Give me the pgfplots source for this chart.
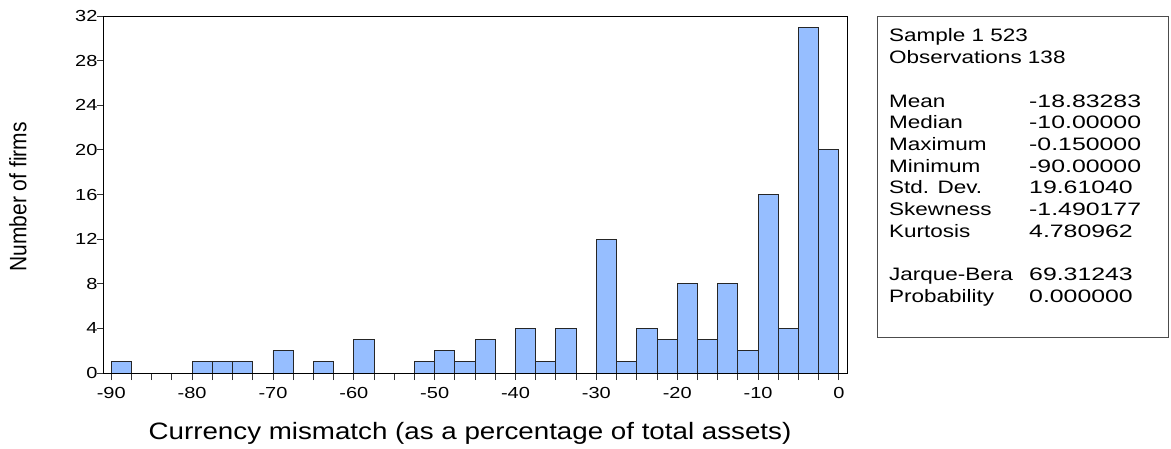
\documentclass[border=0pt]{standalone}
\usepackage{fontspec}
\setmainfont{Liberation Sans}[FakeStretch=1.25]
\newfontfamily\xlabfont{Liberation Sans}[FakeStretch=1.17]
\newfontfamily\ylabfont{Liberation Sans}
\newfontfamily\valfont{Liberation Sans}[FakeStretch=1.38]
\usepackage{graphicx}
\usepackage{pgfplots}
\pgfplotsset{compat=1.18}
\definecolor{barblue}{RGB}{150,190,255}

\begin{document}
\begin{tikzpicture}[x=1pt,y=1pt]
% page = 1171 x 448 px, 1px = 1pt, axis origin at px (104,373)
\useasboundingbox (-104,-75) rectangle (1067,373);
\begin{axis}[
  at={(0,0)}, anchor=south west,
  scale only axis, width=743pt, height=357pt,
  xmin=-90.9, xmax=1, ymin=0, ymax=32,
  xtick={-90,-80,...,0}, minor x tick num=3,
  ytick={0,4,...,32},
  tick pos=left, tick align=outside,
  major tick length=7pt, minor tick length=7pt,
  every tick/.style={black!80, line width=0.9pt},
  axis line style={line width=1pt},
  axis on top,
  /pgf/number format/assume math mode=true,
  tick label style={font=\fontsize{16}{18}\selectfont},
  xticklabel style={yshift=-4pt},
  yticklabel style={xshift=4pt},
]
% counts per 2.5-wide bin, from -90 to 0
\addplot[ybar interval, fill=barblue, draw=black!85, line width=0.9pt] coordinates {
  (-90,1) (-87.5,0) (-85,0) (-82.5,0) (-80,1) (-77.5,1) (-75,1) (-72.5,0)
  (-70,2) (-67.5,0) (-65,1) (-62.5,0) (-60,3) (-57.5,0) (-55,0) (-52.5,1)
  (-50,2) (-47.5,1) (-45,3) (-42.5,0) (-40,4) (-37.5,1) (-35,4) (-32.5,0)
  (-30,12) (-27.5,1) (-25,4) (-22.5,3) (-20,8) (-17.5,3) (-15,8) (-12.5,2)
  (-10,16) (-7.5,4) (-5,31) (-2.5,20) (0,0)
};
\end{axis}

% axis titles
\node[font=\xlabfont\fontsize{23.7}{27}\selectfont, anchor=base] at (366,-66)
  {Currency mismatch (as a percentage of total assets)};
\node[rotate=90, font=\ylabfont\fontsize{21}{24}\selectfont] at (-86,176)
  {\scalebox{1}[1.13]{Number of firms}};

% statistics box
\draw[line width=0.9pt, black!70] (773,36) rectangle (1064,357);
\foreach \i/\lab/\val in {0/Sample 1 523/, 1/Observations 138/,
    3/Mean/-18.83283, 4/Median/-10.00000, 5/Maximum/-0.150000,
    6/Minimum/-90.00000, 7/Std. Dev./19.61040, 8/Skewness/-1.490177,
    9/Kurtosis/4.780962, 11/Jarque-Bera/69.31243, 12/Probability/0.000000} {
  \node[anchor=base west, inner sep=0pt, font=\fontsize{18}{21}\selectfont]
    at (785, {331-\i*21.7}) {\lab};
  \node[anchor=base west, inner sep=0pt, font=\valfont\fontsize{18}{21}\selectfont]
    at (925, {331-\i*21.7}) {\val};
}
\end{tikzpicture}
\end{document}
